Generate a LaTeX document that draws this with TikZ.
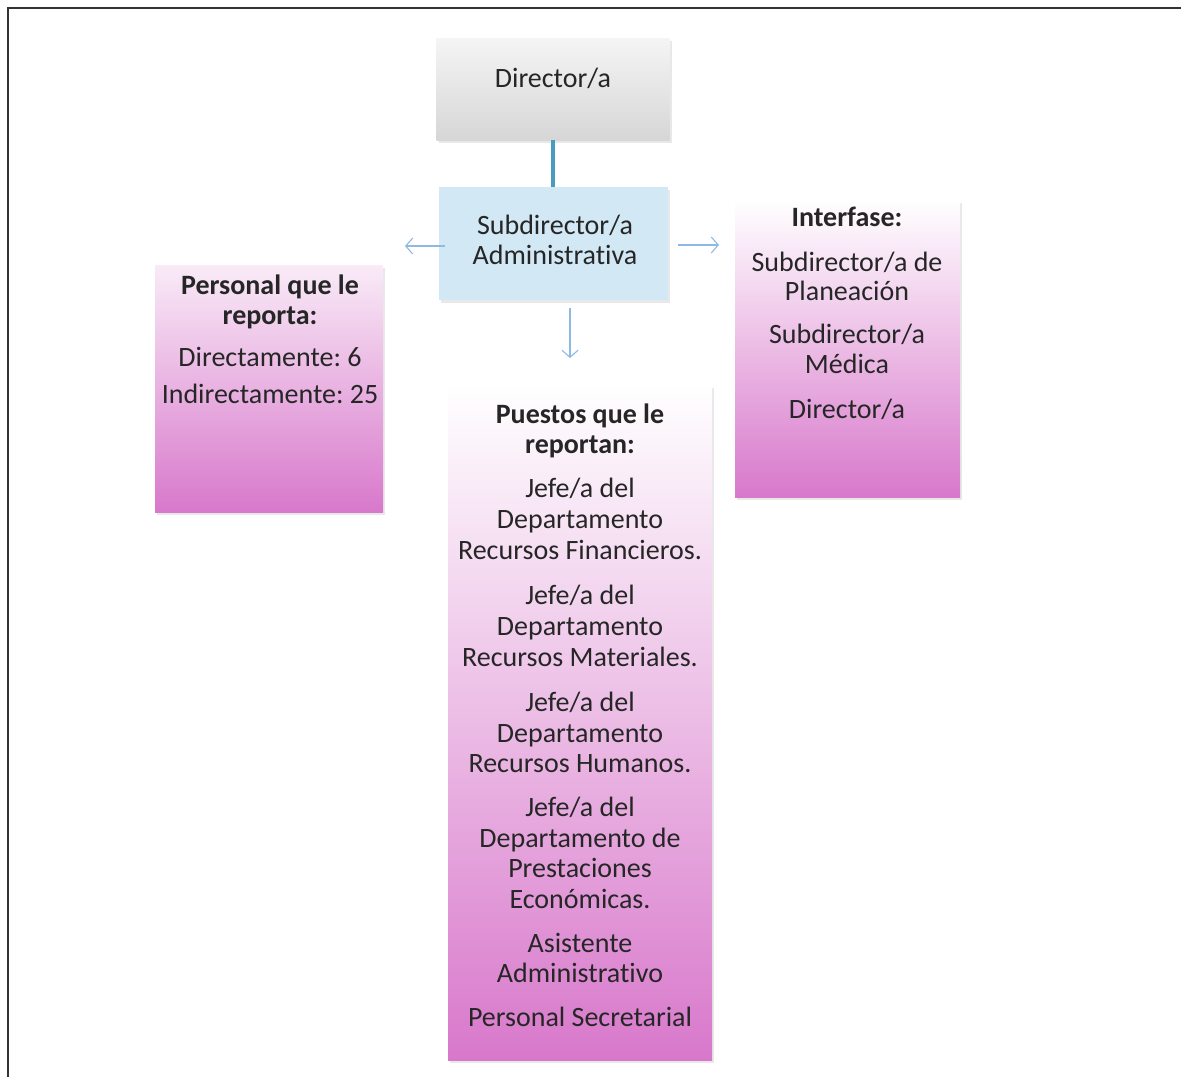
\documentclass[tikz,border=0pt]{standalone}
\usepackage{fontspec}
\setmainfont{Carlito}[RawFeature={-liga;-clig;-calt}]
\frenchspacing
\usetikzlibrary{shadows,arrows.meta}
\definecolor{txtc}{HTML}{262626}
\definecolor{framec}{HTML}{333333}
\definecolor{connc}{HTML}{4A9CBE}
\definecolor{arrc}{HTML}{8DB9E2}
\definecolor{magc}{RGB}{216,120,203}
\definecolor{magmid}{RGB}{238,198,234}
\definecolor{bluec}{HTML}{D2E8F4}
\begin{document}
\begin{tikzpicture}[x=1pt,y=-1pt,
  frame/.style={draw=framec,line width=2pt},
  shbox/.style={draw=none,inner sep=0pt,
    drop shadow={opacity=0.18,shadow xshift=2pt,shadow yshift=-3pt}},
  graybox/.style={shbox,top color=white!96!black,bottom color=white!84!black},
  bluebox/.style={shbox,fill=bluec},
  magbox/.style={shbox,top color=white,middle color=magmid,bottom color=magc},
  t/.style={inner sep=0pt,anchor=base,text=txtc,font=\fontsize{28}{30}\selectfont},
  tb/.style={t,font=\fontsize{28}{30}\selectfont\bfseries},
  conn/.style={draw=connc,line width=4pt},
  arr/.style={draw=arrc,line width=1.1pt,-{Straight Barb[length=7pt,width=16pt]}}
]
\useasboundingbox (0,0) rectangle (1181,1077);
\draw[frame] (8,1077) -- (8,8) -- (1181,8);

% boxes
\node[graybox,minimum width=233pt,minimum height=102pt] (dir) at (553,89) {};
\node[bluebox,minimum width=229pt,minimum height=113pt] (sub) at (553,243.5) {};
\node[magbox,top color=magc!15,minimum width=228pt,minimum height=247pt] (left) at (269,388.5) {};
\node[magbox,minimum width=225pt,minimum height=297pt] (right) at (847.5,348.5) {};
\node[magbox,minimum width=264pt,minimum height=675pt] (center) at (580,722.5) {};

% connectors
\draw[conn] (dir.south) -- (sub.north);
\coordinate (lend) at (405,246);
\coordinate (rend) at (719,245);
\coordinate (dend) at (570,358);
\draw[arr] ([xshift=7pt]sub.west |- lend) -- (lend);
\draw[arr] ([xshift=10pt]sub.east |- rend) -- (rend);
\draw[arr] (dend |- 0,308) -- (dend);

% texts
\node[t] (dirT) at (553,87) {Director/a};
\node[t] (subT1) at (555,234) {Subdirector/a};
\node[t] (subT2) at (555,264) {Administrativa};

\node[tb] (lT1) at (270,294) {Personal que le};
\node[tb] (lT2) at (270,324) {reporta:};
\node[t] (lT3) at (270,366) {Directamente: 6};
\node[t] (lT4) at (270,403) {Indirectamente: 25};

\node[tb] (rT1) at (847,226) {Interfase:};
\node[t] (rT2) at (847,271) {Subdirector/a de};
\node[t] (rT3) at (847,300) {Planeación};
\node[t] (rT4) at (847,343) {Subdirector/a};
\node[t] (rT5) at (847,373) {Médica};
\node[t] (rT6) at (847,418) {Director/a};

\node[tb] (cT1) at (580,423) {Puestos que le};
\node[tb] (cT2) at (580,453) {reportan:};
\node[t] (cT3) at (580,497) {Jefe/a del};
\node[t] (cT4) at (580,528) {Departamento};
\node[t] (cT5) at (580,559) {Recursos Financieros.};
\node[t] (cT6) at (580,604) {Jefe/a del};
\node[t] (cT7) at (580,635) {Departamento};
\node[t] (cT8) at (580,666) {Recursos Materiales.};
\node[t] (cT9) at (580,711) {Jefe/a del};
\node[t] (cT10) at (580,742) {Departamento};
\node[t] (cT11) at (580,772) {Recursos Humanos.};
\node[t] (cT12) at (580,816) {Jefe/a del};
\node[t] (cT13) at (580,847) {Departamento de};
\node[t] (cT14) at (580,877) {Prestaciones};
\node[t] (cT15) at (580,908) {Económicas.};
\node[t] (cT16) at (580,952) {Asistente};
\node[t] (cT17) at (580,982) {Administrativo};
\node[t] (cT18) at (580,1026) {Personal Secretarial};
\end{tikzpicture}
\end{document}
